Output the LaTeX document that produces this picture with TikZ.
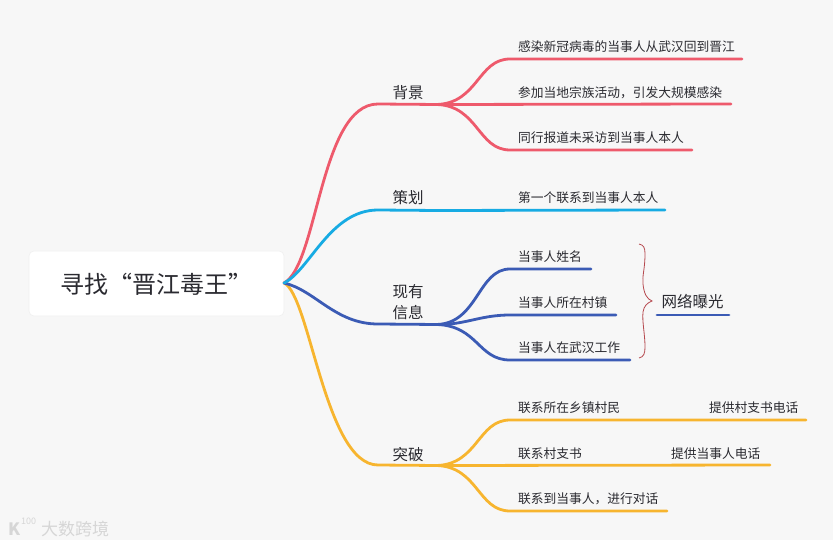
\documentclass[tikz,border=0pt]{standalone}
\usepackage{fontspec}
\setmainfont{Noto Sans CJK SC}
\usetikzlibrary{calc}
\definecolor{bg}{HTML}{F7F7F7}
\definecolor{cred}{HTML}{EE5A6C}
\definecolor{cblue}{HTML}{17ABE3}
\definecolor{cnavy}{HTML}{3B5BB5}
\definecolor{cyel}{HTML}{F7B52F}
\definecolor{ctxt}{HTML}{2A2A30}
\definecolor{cbrace}{HTML}{B5484E}
\definecolor{cwm}{HTML}{D6D6D6}
\tikzset{
 x=1pt,y=1pt,
 branch/.style={line width=2.8pt,line cap=round},
 lone/.style={font=\fontsize{15.5}{21}\selectfont,text=ctxt,inner sep=0pt,align=center},
 ltwo/.style={font=\fontsize{12.75}{16}\selectfont,text=ctxt,inner sep=0pt,anchor=west},
}
\begin{document}
\begin{tikzpicture}
\useasboundingbox (0,0) rectangle (840,544);
\fill[bg] (0,0) rectangle (840,544);
\fill[white] (833,0) rectangle (840,544);
\fill[white] (0,0) rectangle (840,4);
% root
\node[fill=white,draw=black!6,line width=0.6pt,rounded corners=5pt,minimum width=255pt,minimum height=65pt,inner sep=0pt,text=ctxt] (root) at (156.5,260.5) {};
\node[font=\fontsize{24}{28}\selectfont,text=ctxt,inner sep=0pt] (roottext) at (156.5,259.5) {寻找“晋江毒王”};
\coordinate (r) at (284,261);
% level 1 junctions
\coordinate (a1) at (378,440);
\coordinate (a2) at (437,439.5);
\coordinate (b1) at (378,334);
\coordinate (b2) at (437,333.5);
\coordinate (c1) at (378,220);
\coordinate (c2) at (437,219.5);
\coordinate (d1) at (378,79);
\coordinate (d2) at (437,78.5);
% main curves
\draw[branch,cyel] (r) .. controls (310,249) and (325,79) .. (d1) -- (d2);
\draw[branch,cnavy] (r) .. controls (315,254) and (335,220) .. (c1) -- (c2);
\draw[branch,cred] (r) .. controls (318,279) and (320,440) .. (a1) -- (a2);
\draw[branch,cblue] (r) .. controls (310,274) and (330,334) .. (b1) -- (b2);
% red
\coordinate (a3) at (742,485);
\coordinate (a4) at (731,440);
\coordinate (a5) at (692,394);
\draw[branch,cred] (a2) .. controls (478,441) and (478,485) .. (510,485) -- (a3);
\draw[branch,cred] (a2) -- (a4);
\draw[branch,cred] (a2) .. controls (478,438) and (478,394) .. (510,394) -- (a5);
% blue
\coordinate (b3) at (665,334);
\draw[branch,cblue] (b2) -- (b3);
% navy
\coordinate (c3) at (591,275);
\coordinate (c4) at (616,229);
\coordinate (c5) at (630,184);
\draw[branch,cnavy] (c2) .. controls (478,221) and (478,275) .. (510,275) -- (c3);
\draw[branch,cnavy] (c2) .. controls (465,219) and (480,229) .. (510,229) -- (c4);
\draw[branch,cnavy] (c2) .. controls (478,218) and (478,184) .. (510,184) -- (c5);
% yellow
\coordinate (d3) at (806,124);
\coordinate (d4) at (770,79);
\coordinate (d5) at (667,33);
\draw[branch,cyel] (d2) .. controls (478,80) and (478,124) .. (510,124) -- (d3);
\draw[branch,cyel] (d2) -- (d4);
\draw[branch,cyel] (d2) .. controls (478,77) and (478,33) .. (510,33) -- (d5);
% net
\coordinate (n1) at (657,229);
\coordinate (n2) at (729,229);
\draw[branch,cnavy] (n1) -- (n2);
% brace
\coordinate (br) at (652,243);
\draw[line width=0.8pt,cbrace] (639,300) .. controls (644,299) and (645,296) .. (645,290)
  .. controls (645,275) and (642,268) .. (643,260) .. controls (644,250) and (647,245) .. (br)
  .. controls (647,241) and (644,238) .. (643,232) .. controls (642,222) and (645,210) .. (645,197)
  .. controls (645,191) and (644,187) .. (639,186);
% labels
\node[lone] (ta) at (408,451.5) {背景};
\node[lone] (tb) at (408,346.5) {策划};
\node[lone] (tc) at (408,241.5) {现有\\信息};
\node[lone] (td) at (408,89.5) {突破};
\node[ltwo] (a) at (518,497) {感染新冠病毒的当事人从武汉回到晋江};
\node[ltwo] (bb) at (518,451.5) {参加当地宗族活动，引发大规模感染};
\node[ltwo] (cc) at (518,406.5) {同行报道未采访到当事人本人};
\node[ltwo] (dd) at (518,346.5) {第一个联系到当事人本人};
\node[ltwo] (e) at (518,287.5) {当事人姓名};
\node[ltwo] (f) at (518,241.5) {当事人所在村镇};
\node[ltwo] (g) at (518,196.5) {当事人在武汉工作};
\node[ltwo] (h) at (518,136.5) {联系所在乡镇村民};
\node[ltwo] (i) at (518,90.5) {联系村支书};
\node[ltwo] (j) at (518,45.5) {联系到当事人，进行对话};
\node[ltwo] (k) at (709,136.5) {提供村支书电话};
\node[ltwo] (l) at (671,90.5) {提供当事人电话};
\node[lone] (m) at (692.5,242.5) {网络曝光};
% watermark
\node[inner sep=0pt,anchor=west,font=\fontsize{17}{18}\selectfont,text=cwm] (wm) at (41,15) {大数跨境};
\node[inner sep=0pt,anchor=west,font=\bfseries\fontsize{17}{18}\selectfont,text=cwm] (wl) at (8,15) {K};
\node[inner sep=0pt,anchor=west,font=\fontsize{9}{10}\selectfont,text=cwm] (wl2) at (21,23) {100};
\end{tikzpicture}
\end{document}
